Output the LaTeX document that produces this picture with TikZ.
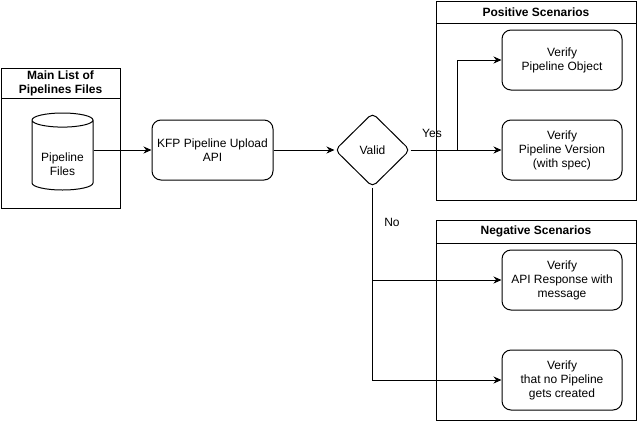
\documentclass[tikz,border=0pt]{standalone}
\usepackage{fontspec}
\setmainfont{Liberation Sans}
\usetikzlibrary{arrows.meta, shapes.geometric, positioning}

\begin{document}
\begin{tikzpicture}[x=1pt, y=-1pt, line width=1pt, >={Stealth[length=8pt, width=7pt]},
    every node/.style={font=\fontsize{12}{14}\selectfont},
    box/.style={draw, rounded corners=9pt, minimum width=120pt, minimum height=60pt, align=center, inner sep=2pt},
    lanehead/.style={draw, outer sep=0pt, inner sep=0pt, align=center, font=\fontsize{12}{14}\selectfont\bfseries},
    lanebody/.style={draw, outer sep=0pt, inner sep=0pt}]
                        \useasboundingbox (0,0) rectangle (637,421);

                        % swimlanes
                        \node[lanehead, minimum width=119pt, minimum height=30pt] (mainhead) at (60.5, 83) {Main List of\\Pipelines Files};
                        \node[lanebody, minimum width=119pt, minimum height=110pt, below=0pt of mainhead] (mainbody) {};
                        \node[lanehead, minimum width=200pt, minimum height=22pt] (poshead) at (536, 12) {Positive Scenarios};
                        \node[lanebody, minimum width=200pt, minimum height=177pt, below=0pt of poshead] (posbody) {};
                        \node[lanehead, minimum width=200pt, minimum height=23pt] (neghead) at (536, 231.5) {Negative Scenarios};
                        \node[lanebody, minimum width=200pt, minimum height=177pt, below=0pt of neghead] (negbody) {};

                        \node[draw, cylinder, shape border rotate=90, aspect=0.33, inner sep=0pt, minimum width=61pt, minimum height=77pt, anchor=shape center] (files) at (62.5, 151.5)
                            {\raisebox{-13pt}[0pt][0pt]{\begin{tabular}{@{}c@{}}Pipeline\\Files\end{tabular}}};
                        \node[box, minimum width=121pt] (upload) at (212.5, 150) {KFP Pipeline Upload\\API};
                        \node[draw, diamond, aspect=1, inner sep=0pt, minimum width=75pt, minimum height=74pt, rounded corners=5pt] (valid) at (372.5, 150) {Valid};

                        \node[box] (vobj) at (562, 60) {Verify\\Pipeline Object};
                        \node[box] (vver) at (562, 150) {Verify\\Pipeline Version\\(with spec)};
                        \node[box] (vapi) at (562, 280) {Verify\\API Response with\\message};
                        \node[box] (vnone) at (562, 380) {Verify\\that no Pipeline\\gets created};

                        \node (yes) at (432, 133) {Yes};
                        \node (no) at (392, 222) {No};

                        \coordinate (yessplit) at (457, 150);
                        \coordinate (nosplit) at (valid.south |- vapi.west);

                        \draw
                        (files.east |- upload.west) edge[->] (upload)
                        (upload) edge[->] (valid)
                        (valid) edge[->] (vver)
                        (nosplit) edge[->] (vapi.west);
                        \draw[->] (yessplit) |- (vobj.west);
                        \draw[->] (valid.south) |- (vnone.west);
                    \end{tikzpicture}
\end{document}
